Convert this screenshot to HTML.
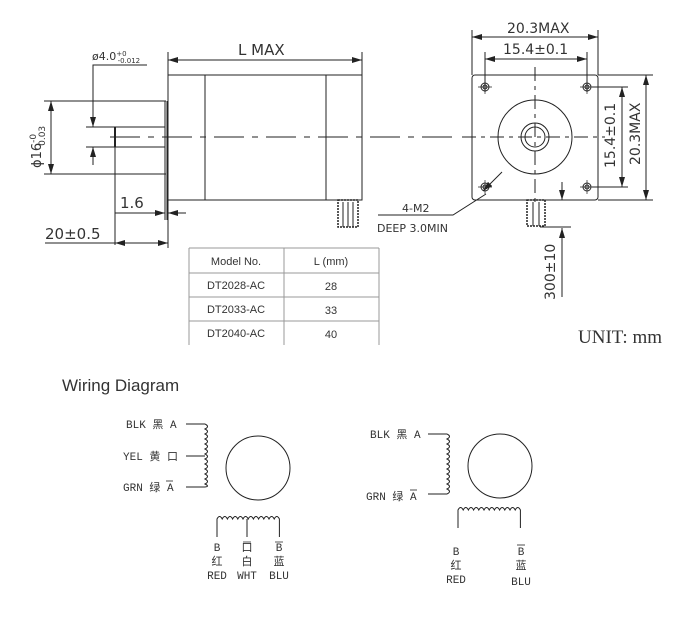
<!DOCTYPE html>
<html><head><meta charset="utf-8"><style>
body{margin:0;background:#fff;width:700px;height:634px;overflow:hidden}
svg{display:block}
text{font-family:"DejaVu Sans","Liberation Sans","Noto Sans CJK SC",sans-serif;fill:#333}
.t text{font-family:"Liberation Sans","Noto Sans CJK SC",sans-serif;font-size:11px}
.c text{font-family:"Liberation Mono","Noto Sans CJK SC",monospace;font-size:11px}
</style></head><body>
<svg width="700" height="634" viewBox="0 0 700 634" fill="none" stroke="#222" stroke-width="1">
<defs>
<marker id="a" viewBox="0 0 10 6" refX="10" refY="3" markerWidth="10" markerHeight="6" orient="auto-start-reverse"><path d="M0,0L10,3L0,6z" fill="#222" stroke="none"/></marker>
</defs>
<line x1="168" y1="60" x2="362" y2="60" marker-start="url(#a)" marker-end="url(#a)"/>
<line x1="168" y1="52" x2="168" y2="75"/><line x1="362" y1="52" x2="362" y2="75"/>
<text x="238" y="55" font-size="15" stroke="none">L  MAX</text>
<rect x="168" y="75" width="194" height="125"/>
<line x1="205" y1="75" x2="205" y2="200"/><line x1="326" y1="75" x2="326" y2="200"/>
<line x1="165" y1="101" x2="165" y2="220"/><line x1="167" y1="101" x2="167" y2="220"/>
<line x1="86" y1="127" x2="165" y2="127"/><line x1="86" y1="147" x2="165" y2="147"/>
<line x1="115" y1="127" x2="115" y2="147" stroke-width="2"/>
<line x1="110" y1="137" x2="455" y2="137" stroke-dasharray="30,8,6,8"/>
<line x1="44" y1="101" x2="166" y2="101"/><line x1="44" y1="174" x2="166" y2="174"/>
<line x1="51" y1="101" x2="51" y2="174" marker-start="url(#a)" marker-end="url(#a)"/>
<text transform="translate(41,168) rotate(-90)" font-size="13" stroke="none">ϕ16<tspan font-size="9" dy="-5">-0</tspan><tspan font-size="9" dx="-12" dy="9">0.03</tspan></text>
<polyline points="147,65 93,65 93,127"/><line x1="93" y1="110" x2="93" y2="127" marker-end="url(#a)"/>
<line x1="93" y1="165" x2="93" y2="147" marker-end="url(#a)"/>
<text x="92" y="60" font-size="11" stroke="none">ø4.0<tspan font-size="7" dy="-4">+0</tspan><tspan font-size="7" dx="-9" dy="7">-0.012</tspan></text>
<line x1="115" y1="147" x2="115" y2="245"/>
<line x1="115" y1="213" x2="165" y2="213" marker-end="url(#a)"/><line x1="186" y1="213" x2="168" y2="213" marker-end="url(#a)"/>
<text x="120" y="208" font-size="15" stroke="none">1.6</text>
<line x1="45" y1="243" x2="168" y2="243"/><line x1="115" y1="243" x2="168" y2="243" marker-start="url(#a)" marker-end="url(#a)"/>
<line x1="168" y1="200" x2="168" y2="248"/>
<text x="45" y="239" font-size="15" stroke="none">20±0.5</text>
<rect x="338" y="200" width="20" height="27" stroke-width="1.5" stroke-dasharray="2,1"/>
<line x1="343" y1="202" x2="343" y2="227"/><line x1="348" y1="202" x2="348" y2="227"/><line x1="353" y1="202" x2="353" y2="227"/>
<line x1="472" y1="30" x2="472" y2="75"/><line x1="598" y1="30" x2="598" y2="75"/>
<line x1="472" y1="37" x2="598" y2="37" marker-start="url(#a)" marker-end="url(#a)"/>
<text x="507" y="33" font-size="14" stroke="none">20.3MAX</text>
<line x1="485" y1="52" x2="485" y2="92"/><line x1="587" y1="52" x2="587" y2="92"/>
<line x1="485" y1="59" x2="587" y2="59" marker-start="url(#a)" marker-end="url(#a)"/>
<text x="503" y="54" font-size="14" stroke="none">15.4±0.1</text>
<rect x="472" y="75" width="126" height="125" rx="3"/>
<g><circle cx="485" cy="87" r="4"/><circle cx="485" cy="87" r="2"/><circle cx="587" cy="87" r="4"/><circle cx="587" cy="87" r="2"/>
<circle cx="485" cy="187" r="4"/><circle cx="485" cy="187" r="2"/><circle cx="587" cy="187" r="4"/><circle cx="587" cy="187" r="2"/>
<path d="M478 87h14M485 80v14M580 87h14M587 80v14M478 187h14M485 180v14M580 187h14M587 180v14" stroke-width=".7"/></g>
<circle cx="535" cy="137" r="37"/><circle cx="535" cy="137" r="14"/><circle cx="535" cy="137" r="10"/>
<line x1="462" y1="137" x2="605" y2="137" stroke-dasharray="14,5,4,5"/>
<line x1="535" y1="67" x2="535" y2="205" stroke-dasharray="14,5,4,5"/>
<line x1="598" y1="75" x2="653" y2="75"/><line x1="598" y1="200" x2="653" y2="200"/>
<line x1="646" y1="75" x2="646" y2="200" marker-start="url(#a)" marker-end="url(#a)"/>
<line x1="592" y1="87" x2="628" y2="87"/><line x1="592" y1="187" x2="628" y2="187"/>
<line x1="622" y1="87" x2="622" y2="187" marker-start="url(#a)" marker-end="url(#a)"/>
<text transform="translate(640,165) rotate(-90)" font-size="14" stroke="none">20.3MAX</text>
<text transform="translate(615,168) rotate(-90)" font-size="14" stroke="none">15.4±0.1</text>
<line x1="502" y1="172" x2="483" y2="191" marker-end="url(#a)"/>
<polyline points="486,194 453,215 378,215"/>
<text x="402" y="212" font-size="11" stroke="none">4-M2</text>
<text x="377" y="232" font-size="11" stroke="none">DEEP 3.0MIN</text>
<rect x="527" y="200" width="18" height="26" stroke-width="1.5" stroke-dasharray="2,1"/>
<line x1="533" y1="202" x2="533" y2="226"/><line x1="539" y1="202" x2="539" y2="226"/>
<line x1="540" y1="227" x2="571" y2="227"/>
<line x1="562" y1="182" x2="562" y2="200" marker-end="url(#a)"/>
<line x1="562" y1="297" x2="562" y2="228" marker-end="url(#a)"/>
<text transform="translate(555,300) rotate(-90)" font-size="14" stroke="none">300±10</text>
<g stroke="#999"><line x1="189" y1="248" x2="379" y2="248"/><line x1="189" y1="273" x2="379" y2="273"/><line x1="189" y1="297" x2="379" y2="297"/><line x1="189" y1="321" x2="379" y2="321"/>
<line x1="189" y1="248" x2="189" y2="345"/><line x1="284" y1="248" x2="284" y2="345"/><line x1="379" y1="248" x2="379" y2="345"/></g>
<g class="t" stroke="none" text-anchor="middle"><text x="236" y="265">Model No.</text><text x="331" y="265">L  (mm)</text>
<text x="236" y="289">DT2028-AC</text><text x="331" y="290">28</text>
<text x="236" y="313">DT2033-AC</text><text x="331" y="314">33</text>
<text x="236" y="337">DT2040-AC</text><text x="331" y="338">40</text></g>
<text x="578" y="343" font-size="19" stroke="none" style="font-family:'Liberation Serif',serif">UNIT: mm</text>
<text x="62" y="391" font-size="17" stroke="none" style="font-family:'Liberation Sans',sans-serif">Wiring Diagram</text>
<g class="c" stroke="none"><text x="126" y="428">BLK 黑 A</text><text x="123" y="460">YEL 黄 口</text><text x="123" y="491">GRN 绿 A</text></g>
<line x1="166" y1="481" x2="173" y2="481" stroke-width=".8"/>
<path d="M186 424H205M186 456H205M186 487H205"/>
<path d="M205 424 q5 2.5 0 5 q5 2.5 0 5 q5 2.5 0 5 q5 2.5 0 5 q5 2.5 0 5 q5 2.5 0 5 q5 2.5 0 5 q5 2.5 0 5 q5 2.5 0 5 q5 2.5 0 5 q5 2.5 0 5 q5 2.5 0 5 q5 2.5 0 3"/>
<circle cx="258" cy="468" r="32"/>
<path d="M217 537V519 q2.6 -5 5.2 0 q2.6 -5 5.2 0 q2.6 -5 5.2 0 q2.6 -5 5.2 0 q2.6 -5 5.2 0 q2.6 -5 5.2 0 q2.6 -5 5.2 0 q2.6 -5 5.2 0 q2.6 -5 5.2 0 q2.6 -5 5.2 0 q2.6 -5 5.2 0 q2.6 -5 5.2 0 V537M247 519V537"/>
<g class="c" stroke="none" text-anchor="middle"><text x="217" y="551">B</text><text x="247" y="551">口</text><text x="279" y="551">B</text>
<text x="217" y="565">红</text><text x="247" y="565">白</text><text x="279" y="565">蓝</text>
<text x="217" y="579">RED</text><text x="247" y="579">WHT</text><text x="279" y="579">BLU</text></g>
<path d="M243 542h8M275 542h8" stroke-width=".8"/>
<g class="c" stroke="none"><text x="370" y="438">BLK 黑 A</text><text x="366" y="500">GRN 绿 A</text></g>
<line x1="410" y1="490" x2="417" y2="490" stroke-width=".8"/>
<path d="M428 434H447M428 494H447"/>
<path d="M447 434 q5 2.5 0 5 q5 2.5 0 5 q5 2.5 0 5 q5 2.5 0 5 q5 2.5 0 5 q5 2.5 0 5 q5 2.5 0 5 q5 2.5 0 5 q5 2.5 0 5 q5 2.5 0 5 q5 2.5 0 5 q5 2.5 0 5"/>
<circle cx="500" cy="466" r="32"/>
<path d="M458 528V510 q2.6 -5 5.2 0 q2.6 -5 5.2 0 q2.6 -5 5.2 0 q2.6 -5 5.2 0 q2.6 -5 5.2 0 q2.6 -5 5.2 0 q2.6 -5 5.2 0 q2.6 -5 5.2 0 q2.6 -5 5.2 0 q2.6 -5 5.2 0 q2.6 -5 5.2 0 q2.6 -5 5.2 0 V528"/>
<g class="c" stroke="none" text-anchor="middle"><text x="456" y="555">B</text><text x="521" y="555">B</text>
<text x="456" y="569">红</text><text x="521" y="569">蓝</text>
<text x="456" y="583">RED</text><text x="521" y="585">BLU</text></g>
<path d="M517 545h8" stroke-width=".8"/>
</svg>
</body></html>
